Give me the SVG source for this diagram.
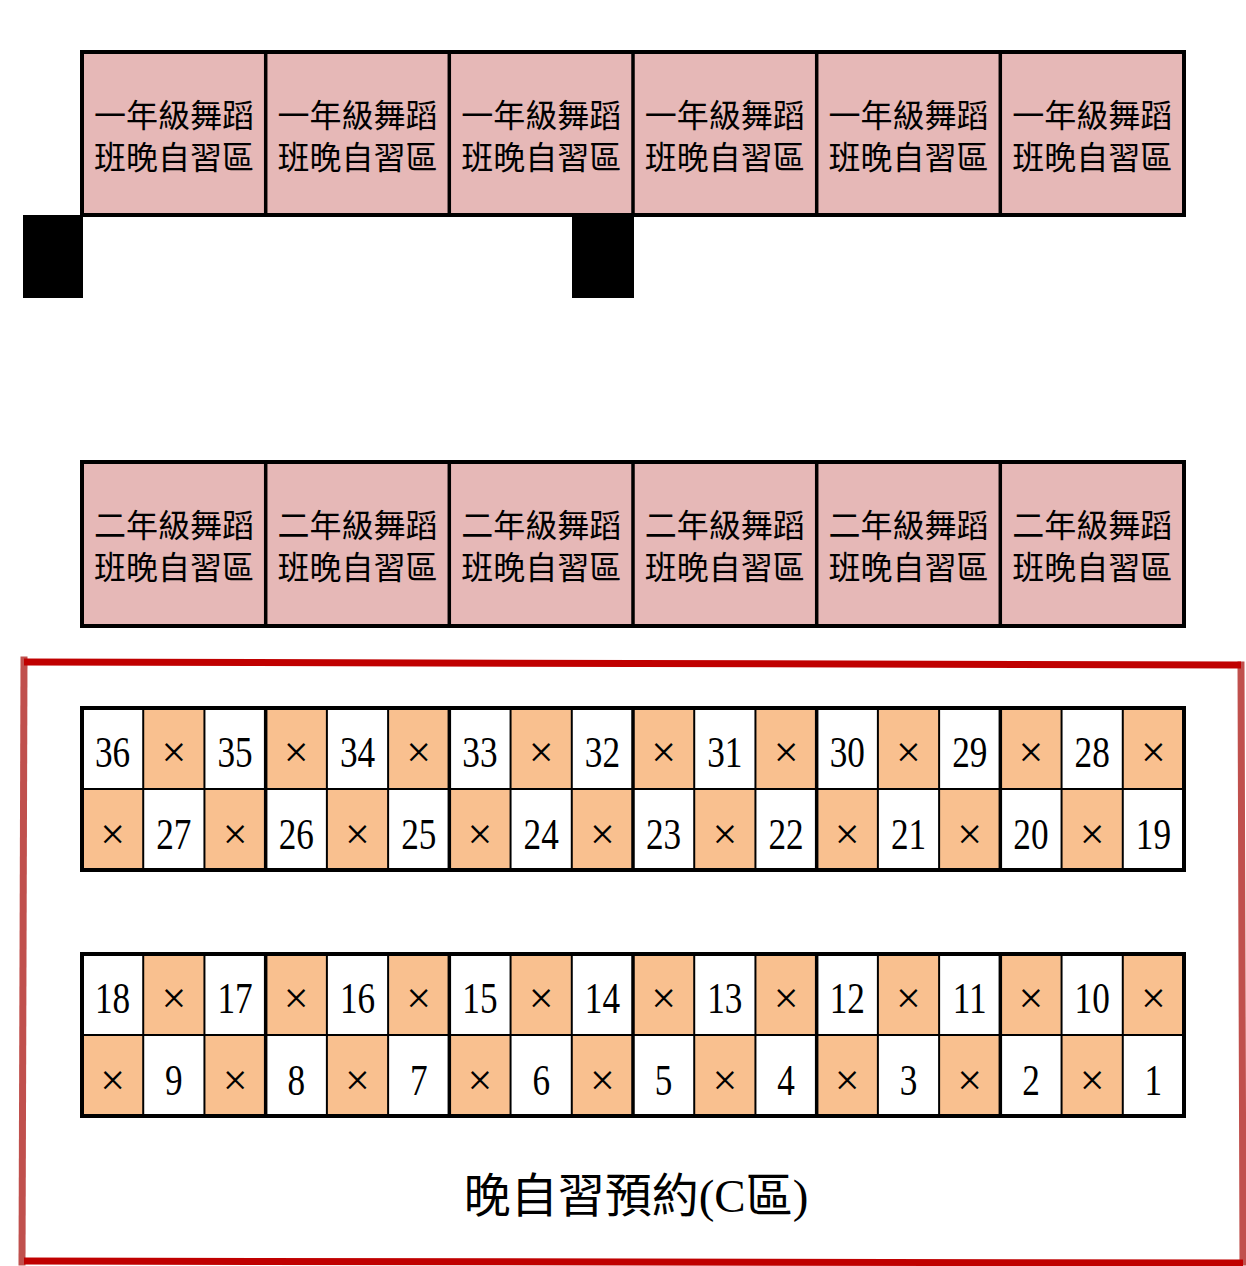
<svg xmlns="http://www.w3.org/2000/svg" width="1246" height="1266" viewBox="0 0 1246 1266">
<style>
.pink{fill:#E6B8B7}
.or{fill:#F9C08F}
.wh{fill:#FFFFFF}
.frame{fill:none;stroke:#000;stroke-width:4}
.div{stroke:#000;stroke-width:3.5}
.thin{stroke:#000;stroke-width:2}
.zh{font-family:"Noto Sans CJK TC","Noto Sans CJK SC",sans-serif;font-size:32px;fill:#000;text-anchor:middle}
.num{font-family:"Liberation Serif","Times New Roman",serif;font-size:44px;fill:#000;text-anchor:middle}
.x{font-family:"Liberation Serif","Times New Roman",serif;font-size:44px;fill:#000;text-anchor:middle}
.title{font-family:"Liberation Serif","Noto Sans CJK TC",serif;font-size:47px;fill:#000;text-anchor:middle}
</style>
<rect width="1246" height="1266" fill="#FFFFFF"/>

<g id="pillars">
<rect x="23" y="215" width="60" height="83" fill="#000"/>
<rect x="572" y="216" width="62" height="82" fill="#000"/>
</g>

<g id="grade1-zones">
<rect x="82" y="52" width="1102" height="163" class="pink"/>
<g id="g1-1"><text class="zh" x="174" y="127">一年級舞蹈</text><text class="zh" x="174" y="169">班晚自習區</text></g>
<g id="g1-2"><text class="zh" x="357.5" y="127">一年級舞蹈</text><text class="zh" x="357.5" y="169">班晚自習區</text></g>
<g id="g1-3"><text class="zh" x="541.2" y="127">一年級舞蹈</text><text class="zh" x="541.2" y="169">班晚自習區</text></g>
<g id="g1-4"><text class="zh" x="724.8" y="127">一年級舞蹈</text><text class="zh" x="724.8" y="169">班晚自習區</text></g>
<g id="g1-5"><text class="zh" x="908.5" y="127">一年級舞蹈</text><text class="zh" x="908.5" y="169">班晚自習區</text></g>
<g id="g1-6"><text class="zh" x="1092.2" y="127">一年級舞蹈</text><text class="zh" x="1092.2" y="169">班晚自習區</text></g>
<rect x="82" y="52" width="1102" height="163" class="frame"/>
<line x1="265.7" y1="52" x2="265.7" y2="215" class="div"/>
<line x1="449.3" y1="52" x2="449.3" y2="215" class="div"/>
<line x1="633" y1="52" x2="633" y2="215" class="div"/>
<line x1="816.7" y1="52" x2="816.7" y2="215" class="div"/>
<line x1="1000.3" y1="52" x2="1000.3" y2="215" class="div"/>
</g>

<g id="grade2-zones">
<rect x="82" y="462" width="1102" height="164" class="pink"/>
<g id="g2-1"><text class="zh" x="174" y="537">二年級舞蹈</text><text class="zh" x="174" y="579">班晚自習區</text></g>
<g id="g2-2"><text class="zh" x="357.5" y="537">二年級舞蹈</text><text class="zh" x="357.5" y="579">班晚自習區</text></g>
<g id="g2-3"><text class="zh" x="541.2" y="537">二年級舞蹈</text><text class="zh" x="541.2" y="579">班晚自習區</text></g>
<g id="g2-4"><text class="zh" x="724.8" y="537">二年級舞蹈</text><text class="zh" x="724.8" y="579">班晚自習區</text></g>
<g id="g2-5"><text class="zh" x="908.5" y="537">二年級舞蹈</text><text class="zh" x="908.5" y="579">班晚自習區</text></g>
<g id="g2-6"><text class="zh" x="1092.2" y="537">二年級舞蹈</text><text class="zh" x="1092.2" y="579">班晚自習區</text></g>
<rect x="82" y="462" width="1102" height="164" class="frame"/>
<line x1="265.7" y1="462" x2="265.7" y2="626" class="div"/>
<line x1="449.3" y1="462" x2="449.3" y2="626" class="div"/>
<line x1="633" y1="462" x2="633" y2="626" class="div"/>
<line x1="816.7" y1="462" x2="816.7" y2="626" class="div"/>
<line x1="1000.3" y1="462" x2="1000.3" y2="626" class="div"/>
</g>

<g id="zone-c-border" stroke-width="7" stroke-linecap="square">
<line x1="24" y1="660" x2="22" y2="1262" stroke="#C0504D"/>
<line x1="1241" y1="665" x2="1243" y2="1262" stroke="#C0504D"/>
<line x1="24" y1="662" x2="1241" y2="665" stroke="#C00000" stroke-linecap="butt"/>
<line x1="24" y1="1261" x2="1243" y2="1263" stroke="#C00000" stroke-linecap="butt"/>
</g>

<g id="seats-a">
<rect x="82" y="708" width="1102" height="162" class="wh"/>
<rect x="143.22" y="708" width="61.22" height="81" class="or"/>
<rect x="265.67" y="708" width="61.22" height="81" class="or"/>
<rect x="388.11" y="708" width="61.22" height="81" class="or"/>
<rect x="510.56" y="708" width="61.22" height="81" class="or"/>
<rect x="633" y="708" width="61.22" height="81" class="or"/>
<rect x="755.44" y="708" width="61.22" height="81" class="or"/>
<rect x="877.89" y="708" width="61.22" height="81" class="or"/>
<rect x="1000.33" y="708" width="61.22" height="81" class="or"/>
<rect x="1122.78" y="708" width="61.22" height="81" class="or"/>
<rect x="82" y="789" width="61.22" height="81" class="or"/>
<rect x="204.44" y="789" width="61.22" height="81" class="or"/>
<rect x="326.89" y="789" width="61.22" height="81" class="or"/>
<rect x="449.33" y="789" width="61.22" height="81" class="or"/>
<rect x="571.78" y="789" width="61.22" height="81" class="or"/>
<rect x="694.22" y="789" width="61.22" height="81" class="or"/>
<rect x="816.67" y="789" width="61.22" height="81" class="or"/>
<rect x="939.11" y="789" width="61.22" height="81" class="or"/>
<rect x="1061.56" y="789" width="61.22" height="81" class="or"/>

<text class="num" transform="translate(112.61,767) scale(0.8,1)">36</text>
<text class="num" transform="translate(235.06,767) scale(0.8,1)">35</text>
<text class="num" transform="translate(357.5,767) scale(0.8,1)">34</text>
<text class="num" transform="translate(479.94,767) scale(0.8,1)">33</text>
<text class="num" transform="translate(602.39,767) scale(0.8,1)">32</text>
<text class="num" transform="translate(724.83,767) scale(0.8,1)">31</text>
<text class="num" transform="translate(847.28,767) scale(0.8,1)">30</text>
<text class="num" transform="translate(969.72,767) scale(0.8,1)">29</text>
<text class="num" transform="translate(1092.17,767) scale(0.8,1)">28</text>
<text class="x" x="173.83" y="767">×</text>
<text class="x" x="296.28" y="767">×</text>
<text class="x" x="418.72" y="767">×</text>
<text class="x" x="541.17" y="767">×</text>
<text class="x" x="663.61" y="767">×</text>
<text class="x" x="786.06" y="767">×</text>
<text class="x" x="908.5" y="767">×</text>
<text class="x" x="1030.94" y="767">×</text>
<text class="x" x="1153.39" y="767">×</text>

<text class="x" x="112.61" y="849">×</text>
<text class="x" x="235.06" y="849">×</text>
<text class="x" x="357.5" y="849">×</text>
<text class="x" x="479.94" y="849">×</text>
<text class="x" x="602.39" y="849">×</text>
<text class="x" x="724.83" y="849">×</text>
<text class="x" x="847.28" y="849">×</text>
<text class="x" x="969.72" y="849">×</text>
<text class="x" x="1092.17" y="849">×</text>
<text class="num" transform="translate(173.83,849) scale(0.8,1)">27</text>
<text class="num" transform="translate(296.28,849) scale(0.8,1)">26</text>
<text class="num" transform="translate(418.72,849) scale(0.8,1)">25</text>
<text class="num" transform="translate(541.17,849) scale(0.8,1)">24</text>
<text class="num" transform="translate(663.61,849) scale(0.8,1)">23</text>
<text class="num" transform="translate(786.06,849) scale(0.8,1)">22</text>
<text class="num" transform="translate(908.5,849) scale(0.8,1)">21</text>
<text class="num" transform="translate(1030.94,849) scale(0.8,1)">20</text>
<text class="num" transform="translate(1153.39,849) scale(0.8,1)">19</text>

<line x1="82" y1="789" x2="1184" y2="789" class="thin"/>
<line x1="143.22" y1="708" x2="143.22" y2="870" class="thin"/>
<line x1="204.44" y1="708" x2="204.44" y2="870" class="thin"/>
<line x1="265.67" y1="708" x2="265.67" y2="870" class="div"/>
<line x1="326.89" y1="708" x2="326.89" y2="870" class="thin"/>
<line x1="388.11" y1="708" x2="388.11" y2="870" class="thin"/>
<line x1="449.33" y1="708" x2="449.33" y2="870" class="div"/>
<line x1="510.56" y1="708" x2="510.56" y2="870" class="thin"/>
<line x1="571.78" y1="708" x2="571.78" y2="870" class="thin"/>
<line x1="633" y1="708" x2="633" y2="870" class="div"/>
<line x1="694.22" y1="708" x2="694.22" y2="870" class="thin"/>
<line x1="755.44" y1="708" x2="755.44" y2="870" class="thin"/>
<line x1="816.67" y1="708" x2="816.67" y2="870" class="div"/>
<line x1="877.89" y1="708" x2="877.89" y2="870" class="thin"/>
<line x1="939.11" y1="708" x2="939.11" y2="870" class="thin"/>
<line x1="1000.33" y1="708" x2="1000.33" y2="870" class="div"/>
<line x1="1061.56" y1="708" x2="1061.56" y2="870" class="thin"/>
<line x1="1122.78" y1="708" x2="1122.78" y2="870" class="thin"/>
<rect x="82" y="708" width="1102" height="162" class="frame"/>
</g>

<g id="seats-b">
<rect x="82" y="954" width="1102" height="162" class="wh"/>
<rect x="143.22" y="954" width="61.22" height="81" class="or"/>
<rect x="265.67" y="954" width="61.22" height="81" class="or"/>
<rect x="388.11" y="954" width="61.22" height="81" class="or"/>
<rect x="510.56" y="954" width="61.22" height="81" class="or"/>
<rect x="633" y="954" width="61.22" height="81" class="or"/>
<rect x="755.44" y="954" width="61.22" height="81" class="or"/>
<rect x="877.89" y="954" width="61.22" height="81" class="or"/>
<rect x="1000.33" y="954" width="61.22" height="81" class="or"/>
<rect x="1122.78" y="954" width="61.22" height="81" class="or"/>
<rect x="82" y="1035" width="61.22" height="81" class="or"/>
<rect x="204.44" y="1035" width="61.22" height="81" class="or"/>
<rect x="326.89" y="1035" width="61.22" height="81" class="or"/>
<rect x="449.33" y="1035" width="61.22" height="81" class="or"/>
<rect x="571.78" y="1035" width="61.22" height="81" class="or"/>
<rect x="694.22" y="1035" width="61.22" height="81" class="or"/>
<rect x="816.67" y="1035" width="61.22" height="81" class="or"/>
<rect x="939.11" y="1035" width="61.22" height="81" class="or"/>
<rect x="1061.56" y="1035" width="61.22" height="81" class="or"/>

<text class="num" transform="translate(112.61,1013) scale(0.8,1)">18</text>
<text class="num" transform="translate(235.06,1013) scale(0.8,1)">17</text>
<text class="num" transform="translate(357.5,1013) scale(0.8,1)">16</text>
<text class="num" transform="translate(479.94,1013) scale(0.8,1)">15</text>
<text class="num" transform="translate(602.39,1013) scale(0.8,1)">14</text>
<text class="num" transform="translate(724.83,1013) scale(0.8,1)">13</text>
<text class="num" transform="translate(847.28,1013) scale(0.8,1)">12</text>
<text class="num" transform="translate(969.72,1013) scale(0.8,1)">11</text>
<text class="num" transform="translate(1092.17,1013) scale(0.8,1)">10</text>
<text class="x" x="173.83" y="1013">×</text>
<text class="x" x="296.28" y="1013">×</text>
<text class="x" x="418.72" y="1013">×</text>
<text class="x" x="541.17" y="1013">×</text>
<text class="x" x="663.61" y="1013">×</text>
<text class="x" x="786.06" y="1013">×</text>
<text class="x" x="908.5" y="1013">×</text>
<text class="x" x="1030.94" y="1013">×</text>
<text class="x" x="1153.39" y="1013">×</text>

<text class="x" x="112.61" y="1095">×</text>
<text class="x" x="235.06" y="1095">×</text>
<text class="x" x="357.5" y="1095">×</text>
<text class="x" x="479.94" y="1095">×</text>
<text class="x" x="602.39" y="1095">×</text>
<text class="x" x="724.83" y="1095">×</text>
<text class="x" x="847.28" y="1095">×</text>
<text class="x" x="969.72" y="1095">×</text>
<text class="x" x="1092.17" y="1095">×</text>
<text class="num" transform="translate(173.83,1095) scale(0.8,1)">9</text>
<text class="num" transform="translate(296.28,1095) scale(0.8,1)">8</text>
<text class="num" transform="translate(418.72,1095) scale(0.8,1)">7</text>
<text class="num" transform="translate(541.17,1095) scale(0.8,1)">6</text>
<text class="num" transform="translate(663.61,1095) scale(0.8,1)">5</text>
<text class="num" transform="translate(786.06,1095) scale(0.8,1)">4</text>
<text class="num" transform="translate(908.5,1095) scale(0.8,1)">3</text>
<text class="num" transform="translate(1030.94,1095) scale(0.8,1)">2</text>
<text class="num" transform="translate(1153.39,1095) scale(0.8,1)">1</text>

<line x1="82" y1="1035" x2="1184" y2="1035" class="thin"/>
<line x1="143.22" y1="954" x2="143.22" y2="1116" class="thin"/>
<line x1="204.44" y1="954" x2="204.44" y2="1116" class="thin"/>
<line x1="265.67" y1="954" x2="265.67" y2="1116" class="div"/>
<line x1="326.89" y1="954" x2="326.89" y2="1116" class="thin"/>
<line x1="388.11" y1="954" x2="388.11" y2="1116" class="thin"/>
<line x1="449.33" y1="954" x2="449.33" y2="1116" class="div"/>
<line x1="510.56" y1="954" x2="510.56" y2="1116" class="thin"/>
<line x1="571.78" y1="954" x2="571.78" y2="1116" class="thin"/>
<line x1="633" y1="954" x2="633" y2="1116" class="div"/>
<line x1="694.22" y1="954" x2="694.22" y2="1116" class="thin"/>
<line x1="755.44" y1="954" x2="755.44" y2="1116" class="thin"/>
<line x1="816.67" y1="954" x2="816.67" y2="1116" class="div"/>
<line x1="877.89" y1="954" x2="877.89" y2="1116" class="thin"/>
<line x1="939.11" y1="954" x2="939.11" y2="1116" class="thin"/>
<line x1="1000.33" y1="954" x2="1000.33" y2="1116" class="div"/>
<line x1="1061.56" y1="954" x2="1061.56" y2="1116" class="thin"/>
<line x1="1122.78" y1="954" x2="1122.78" y2="1116" class="thin"/>
<rect x="82" y="954" width="1102" height="162" class="frame"/>
</g>

<g id="zone-c-title">
<text class="title" x="636" y="1212">晚自習預約(C區)</text>
</g>
</svg>
